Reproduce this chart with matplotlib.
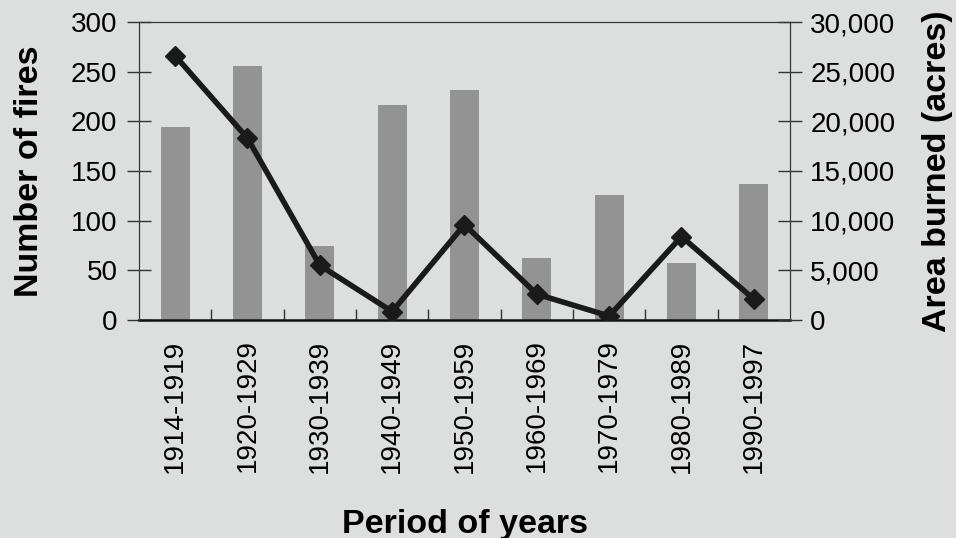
import matplotlib
matplotlib.use("Agg")
import matplotlib.pyplot as plt
from matplotlib.ticker import FuncFormatter, MultipleLocator
import numpy as np

plt.rcParams['font.family'] = ['Liberation Sans', 'DejaVu Sans']

periods = ["1914-1919", "1920-1929", "1930-1939", "1940-1949", "1950-1959",
           "1960-1969", "1970-1979", "1980-1989", "1990-1997"]
num_fires = [194, 256, 75, 216, 232, 62, 126, 57, 137]
area_burned = [26600, 18300, 5500, 850, 9600, 2600, 400, 8400, 2100]

bg = "#dddfde"
fig = plt.figure(figsize=(9.56, 5.38), dpi=100, facecolor=bg)
ax = fig.add_axes([139/956, 1-320/538, (790-139)/956, (320-22)/538])
ax.set_facecolor(bg)
x = np.arange(len(periods))
ax.bar(x, num_fires, width=0.4, color="#939393", zorder=1)
ax.set_xlim(-0.5, len(periods)-0.5)
ax.set_ylim(0, 300)
ax.yaxis.set_major_locator(MultipleLocator(50))
ax.set_xticks(x)
ax.set_xticklabels(periods, rotation=90, fontsize=20)
ax.tick_params(axis='x', length=0, pad=14)
ax.set_xticks(np.arange(0.5, len(periods)-0.5, 1), minor=True)
ax.tick_params(axis='x', which='minor', direction='in', length=8, width=1, color="#333333")
ax.tick_params(axis='y', direction='inout', length=17, width=1, labelsize=20, pad=7, color="#333333")
for s in ax.spines.values():
    s.set_color("#333333")
ax.spines['bottom'].set_linewidth(1.8)
ax.spines['bottom'].set_color("#111111")
ax.set_ylabel("Number of fires", fontsize=24.5, fontweight='bold', labelpad=19)
ax.set_xlabel("Period of years", fontsize=24.5, fontweight='bold', labelpad=26)

ax2 = ax.twinx()
ax2.plot(x, area_burned, color="#1a1a1a", lw=4, marker='D', markersize=10, zorder=3)
ax2.set_ylim(0, 30000)
ax2.yaxis.set_major_locator(MultipleLocator(5000))
ax2.yaxis.set_major_formatter(FuncFormatter(lambda v, p: f"{int(v):,}"))
ax2.tick_params(axis='y', direction='inout', length=17, width=1, labelsize=20, pad=6, color="#333333")
for s in ax2.spines.values():
    s.set_color("#333333")
ax2.spines['bottom'].set_visible(False)
ax2.set_ylabel("Area burned (acres)", fontsize=24.5, fontweight='bold', labelpad=19)

fig.savefig("out.png", dpi=100, facecolor=bg)
